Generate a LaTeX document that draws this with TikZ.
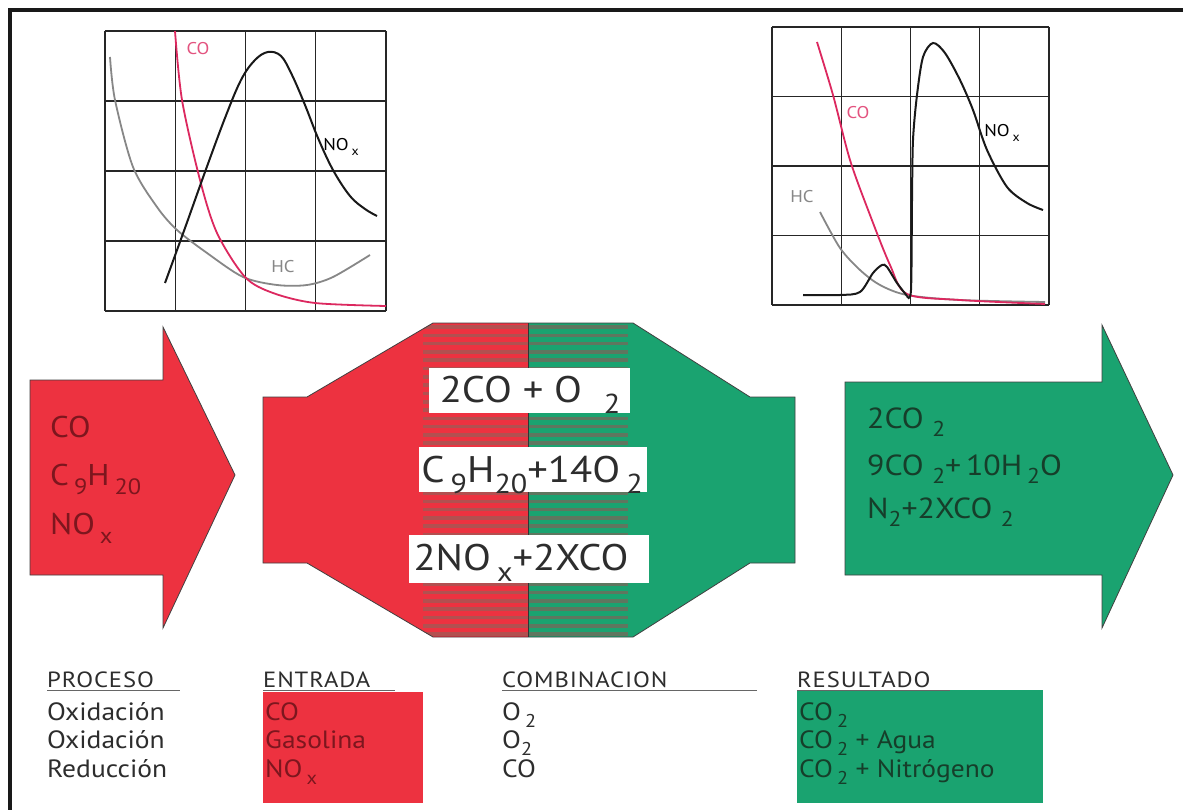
\documentclass[tikz,border=0pt]{standalone}
\usepackage{fontspec}
\setmainfont{PT Sans}[FakeStretch=1.1]
\newfontfamily\hdrfont{PT Sans}[FakeStretch=1.12,LetterSpace=4]
\usepackage{graphicx}
\newcommand{\lo}[1]{\raisebox{-0.3em}{\scalebox{0.74}{#1}}}
\definecolor{cRed}{RGB}{237,50,64}
\definecolor{cGreen}{RGB}{26,163,112}
\definecolor{cRedTxt}{RGB}{125,22,30}
\definecolor{cGreenTxt}{RGB}{22,62,42}
\definecolor{stripeR}{RGB}{178,80,80}
\definecolor{stripeG}{RGB}{95,118,95}
\definecolor{coPink}{RGB}{220,40,95}
\definecolor{hcGray}{RGB}{135,135,135}
\definecolor{txt}{RGB}{45,45,45}
\begin{document}
\begin{tikzpicture}[x=1pt,y=-1pt,
 gridln/.style={line width=1.3pt, black!85},
 nox/.style={line width=2pt, black!90},
 cocurve/.style={line width=1.8pt, coPink},
 hccurve/.style={line width=1.8pt, hcGray},
 glabel/.style={font=\fontsize{17}{17}\selectfont, inner sep=0},
 shapeline/.style={draw=black!75, line width=0.8pt},
 eqbox/.style={fill=white, inner sep=0},
 eqtxt/.style={anchor=base, inner sep=0, font=\fontsize{37}{37}\selectfont, text=txt},
 arrowtxt/.style={anchor=base west, inner sep=0},
 thead/.style={anchor=base west, inner sep=0, font=\hdrfont\fontsize{22}{22}\selectfont, text=txt},
 trow/.style={anchor=base west, inner sep=0, font=\fontsize{25}{25}\selectfont, text=txt},
 uline/.style={line width=1pt, black!60},
]
\useasboundingbox (0,0) rectangle (1183,810);
\fill[white] (0,0) rectangle (1183,810);
% frame
\draw[line width=4pt, black!90] (10,815) -- (10,10.5) -- (1190,10.5);

% ---------- left graph ----------
\foreach \i in {0,...,4} {
  \draw[gridln] (105+70.25*\i,31) -- (105+70.25*\i,311);
  \draw[gridln] (105,31+70*\i) -- (386,31+70*\i);
}
\draw[hccurve] plot[smooth] coordinates {(110,57) (115,100) (133,167) (157,207) (177,230) (207,253) (243,277) (277,285) (307,285) (333,277) (370,255)};
\draw[cocurve] plot[smooth] coordinates {(175,31) (182,100) (200,180) (217,233) (245,277) (273,293) (315,303) (386,306)};
\draw[nox] plot[smooth, tension=0.6] coordinates {(165,283) (185,228) (205,172) (225,118) (241,80) (255,60) (268,52) (281,56) (292,75) (305,105) (318,138) (333,170) (350,196) (365,209) (377,216)};
\node[glabel, text=coPink!80] (lco) at (198,49) {CO};
\node[glabel, text=black] (lnox) at (341,147) {NO\,\lo{x}};
\node[glabel, text=hcGray] (lhc) at (283,267) {HC};

% ---------- right graph ----------
\foreach \i in {0,...,4} {
  \draw[gridln] (772+69.25*\i,27) -- (772+69.25*\i,305);
  \draw[gridln] (772,27+69.5*\i) -- (1049,27+69.5*\i);
}
\draw[hccurve] plot[smooth] coordinates {(820,212) (840,248) (860,270) (880,285) (907,295) (960,300) (1045,302)};
\draw[cocurve] plot[smooth] coordinates {(817,42) (833,95) (850,160) (870,215) (890,265) (907,294) (960,300) (1045,304)};
\draw[nox] plot[smooth] coordinates {(803,295) (840,295) (860,292) (873,273) (882,265) (887,267) (897,283) (907,296)};
\draw[nox] plot[smooth] coordinates {(907,296) (911,290) (912,200) (913,140) (917,95) (923,57) (933,43) (945,53) (960,80) (973,110) (987,150) (1007,187) (1027,203) (1043,210)};
\node[glabel, text=coPink!80] (rco) at (858,113) {CO};
\node[glabel, text=black] (rnox) at (1002,133) {NO\,\lo{x}};
\node[glabel, text=hcGray] (rhc) at (802,197) {HC};

% ---------- left arrow ----------
\draw[shapeline, fill=cRed] (30,380) -- (163,380) -- (163,327) -- (235,475) -- (163,628) -- (163,575) -- (30,575) -- cycle;
\begin{scope}[every node/.style={arrowtxt, text=cRedTxt, font=\fontsize{30}{30}\selectfont}]
\node (a1) at (50,437) {CO};
\node (a2) at (50,485) {C\,\lo{9}H\,\lo{20}};
\node (a3) at (50,534) {NO\,\lo{x}};
\end{scope}

% ---------- centre converter ----------
\fill[cRed] (263,397) -- (307,397) -- (433,323) -- (528,323) -- (528,637) -- (433,637) -- (307,563) -- (263,563) -- cycle;
\fill[cGreen] (528,323) -- (633,323) -- (750,397) -- (795,397) -- (795,563) -- (750,563) -- (633,637) -- (528,637) -- cycle;
\begin{scope}
  \clip (263,397) -- (307,397) -- (433,323) -- (633,323) -- (750,397) -- (795,397) -- (795,563) -- (750,563) -- (633,637) -- (433,637) -- (307,563) -- (263,563) -- cycle;
  \foreach \k in {0,...,37} {
    \draw[line width=3.6pt, stripeR] (423,327+8.3*\k) -- (528,327+8.3*\k);
    \draw[line width=3.6pt, stripeG] (528,327+8.3*\k) -- (628,327+8.3*\k);
  }
\end{scope}
\draw[shapeline] (263,397) -- (307,397) -- (433,323) -- (633,323) -- (750,397) -- (795,397) -- (795,563) -- (750,563) -- (633,637) -- (433,637) -- (307,563) -- (263,563) -- cycle;
\draw[line width=1pt, black!80] (528,323) -- (528,637);

\node[eqbox, minimum width=201, minimum height=45] (b1) at (529.5,390.5) {};
\node[eqbox, minimum width=228, minimum height=45] (b2) at (533,469.5) {};
\node[eqbox, minimum width=240, minimum height=48] (b3) at (529,559) {};
\node[eqtxt] (e1) at (530,402) {2CO + O~~\lo{2}};
\node[eqtxt] (e2) at (532,482) {C\,\lo{9}H\lo{20}+14O\,\lo{2}};
\node[eqtxt] (e3) at (521,570) {2NO\,\lo{x}+2XCO};

% ---------- right arrow ----------
\draw[shapeline, fill=cGreen] (845,382) -- (1102,382) -- (1102,325) -- (1173,475) -- (1102,628) -- (1102,575) -- (845,575) -- cycle;
\begin{scope}[every node/.style={arrowtxt, text=cGreenTxt, font=\fontsize{29}{29}\selectfont}]
\node (r1) at (867,428) {2CO~\lo{2}};
\node (r2) at (867,475) {9CO~\lo{2}+\,10H\,\lo{2}O};
\node (r3) at (867,518) {N\lo{2}+2XCO~\lo{2}};
\end{scope}

% ---------- table ----------
\fill[cRed] (263,692) rectangle (423,803);
\fill[cGreen] (797,690) rectangle (1043,803);

\node[thead] (h1) at (47,687) {PROCESO};
\node[thead] (h2) at (263,687) {ENTRADA};
\node[thead] (h3) at (502,687) {COMBINACION};
\node[thead] (h4) at (797,687) {RESULTADO};
\draw[uline] (47,690) -- (180,690);
\draw[uline] (263,690) -- (395,690);
\draw[uline] (502,690) -- (757,690);
\draw[uline] (797,690) -- (950,690);

\node[trow] (p1) at (47,720) {Oxidación};
\node[trow] (p2) at (47,748) {Oxidación};
\node[trow] (p3) at (47,777) {Reducción};

\node[trow, text=cRedTxt] (n1) at (265,720) {CO};
\node[trow, text=cRedTxt] (n2) at (265,748) {Gasolina};
\node[trow, text=cRedTxt] (n3) at (265,777) {NO\,\lo{x}};

\node[trow] (c1) at (502,720) {O\,\lo{2}};
\node[trow] (c2) at (502,748) {O\lo{2}};
\node[trow] (c3) at (502,777) {CO};

\node[trow, text=cGreenTxt] (s1) at (799,720) {CO\,\lo{2}};
\node[trow, text=cGreenTxt] (s2) at (799,748) {CO\,\lo{2} + Agua};
\node[trow, text=cGreenTxt] (s3) at (799,777) {CO\,\lo{2} + Nitrógeno};
\end{tikzpicture}
\end{document}
